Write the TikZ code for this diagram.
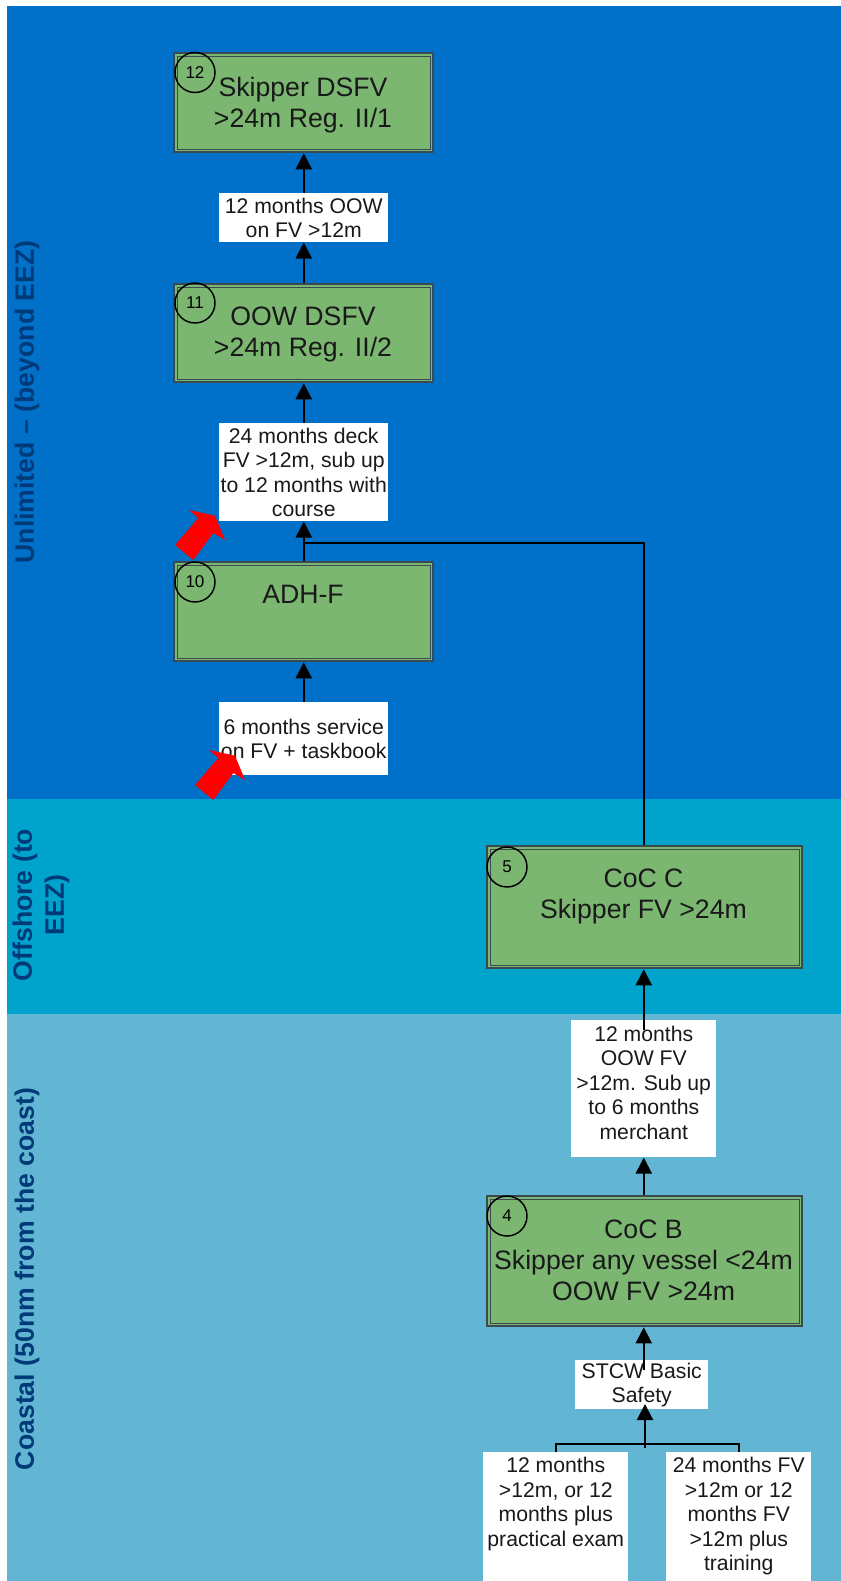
\documentclass[tikz,border=0pt]{standalone}
\usepackage{fontspec}
\setmainfont{Liberation Sans}
\usetikzlibrary{arrows.meta,calc}
\definecolor{bandA}{HTML}{0070C8}
\definecolor{bandB}{HTML}{00A3CC}
\definecolor{bandC}{HTML}{63B6D3}
\definecolor{boxg}{HTML}{7CB772}
\definecolor{edgeg}{HTML}{3A4A52}
\definecolor{bandtext}{HTML}{003A78}
\tikzset{
 x=0.75pt,y=-0.75pt,
 box/.style={draw=edgeg,fill=boxg,line width=1.7pt,rectangle,inner sep=0pt,anchor=north west},
 inbox/.style={draw=edgeg,line width=0.75pt,fill=none},
 boxtext/.style={font=\fontsize{20}{23.3}\selectfont,align=center,text=black!90,anchor=north},
 lab/.style={fill=white,inner sep=0pt,anchor=north west,align=center,font=\fontsize{15.9}{18.4}\selectfont,text=black!90},
 labtext/.style={lab,fill=none,anchor=north},
 num/.style={draw=black,line width=1.1pt,circle,minimum size=30pt,inner sep=0pt,font=\fontsize{12.8}{14}\selectfont},
 con/.style={draw=black,line width=1.6pt},
 arr/.style={con,-{Triangle[length=12pt,width=12pt]}},
 band/.style={font=\bfseries\fontsize{20}{24}\selectfont,text=bandtext,rotate=90,align=center},
 redarrow/.style={fill=red,draw=none}
}
\newcommand{\greenbox}[5]{%
 \node[box,minimum width=#3*0.75pt,minimum height=#4*0.75pt] (#5) at (#1,#2) {};
 \draw[inbox] ($(#5.north west)+(4.2,4.2)$) rectangle ($(#5.south east)+(-4.2,-4.2)$);
}
\begin{document}
\begin{tikzpicture}
\useasboundingbox (0,0) rectangle (841,1581);
\fill[white] (0,0) rectangle (841,1581);
\fill[bandA] (7,6) rectangle (841,799);
\fill[bandB] (7,799) rectangle (841,1014);
\fill[bandC] (7,1014) rectangle (841,1581);
\node[band] (u) at (27,402) {Unlimited – (beyond EEZ)};
\node[band] (o) at (41,905) {Offshore (to\\EEZ)};
\node[band] (c) at (27,1279) {Coastal (50nm from the coast)};
% boxes
\greenbox{173}{52}{259}{99}{b12}
\greenbox{173}{283}{259}{98}{b11}
\greenbox{173}{561}{259}{99}{b10}
\greenbox{486}{845}{315}{122}{b5}
\greenbox{486}{1195}{315}{130}{b4}
\node[boxtext] (t12) at (303,72.5) {Skipper DSFV\\>24m Reg. II/1};
\node[boxtext] (t11) at (303,302.5) {OOW DSFV\\>24m Reg. II/2};
\node[boxtext] (t10) at (303,580.5) {ADH-F};
\node[boxtext] (t5) at (643.5,864) {CoC C\\Skipper FV >24m};
\node[boxtext] (t4) at (643.5,1215) {CoC B\\Skipper any vessel <24m\\OOW FV >24m};
\node[num] (n12) at (195,72.5) {12};
\node[num] (n11) at (195,303) {11};
\node[num] (n10) at (195,582) {10};
\node[num] (n5) at (507,867) {5};
\node[num] (n4) at (507,1216) {4};
% labels
\node[lab,minimum width=126.75pt,minimum height=36.75pt] (l12) at (219,193) {12 months OOW\\on FV >12m};
\node[lab,minimum width=126.75pt,minimum height=73.5pt] (l11) at (219,423) {24 months deck\\FV >12m, sub up\\to 12 months with\\course};
\node[lab,minimum width=126.75pt,minimum height=54.75pt] (l10) at (219,702) {6 months service\\on FV + taskbook};
\node[lab,minimum width=108.75pt,minimum height=102.75pt] (l5) at (571,1020) {};
\node[labtext] (l5t) at ($(l5.north)+(0,5.5)$) {12 months\\OOW FV\\>12m. Sub up\\to 6 months\\merchant};
\node[lab,minimum width=99.75pt,minimum height=36.75pt] (l4) at (575,1360) {STCW Basic\\Safety};
\node[lab,minimum width=108.75pt,minimum height=96.75pt] (la) at (483,1452) {};
\node[lab,minimum width=108.75pt,minimum height=96.75pt] (lb) at (666,1452) {};
\node[labtext] (lat) at ($(la.north)+(0,5)$) {12 months\\>12m, or 12\\months plus\\practical exam};
\node[labtext] (lbt) at ($(lb.north)+(0,5)$) {24 months FV\\>12m or 12\\months FV\\>12m plus\\training};
% red arrows
\fill[redarrow] (175,545) -- (193.3,560) -- (213.3,533) -- (225,540) -- (215,515.7) -- (189,510) -- (198.3,518) -- cycle;
\fill[redarrow] (195,785) -- (213.3,800) -- (233.3,773) -- (245,780) -- (235,755.7) -- (209,750) -- (218.3,758) -- cycle;
% connectors
\coordinate (j) at (b10.north |- 0,543);
\draw[arr] (l12.north) -- (l12.north |- b12.south);
\draw[arr] (l12.north |- b11.north) -- (l12.south);
\draw[arr] (l11.north) -- (l11.north |- b11.south);
\draw[arr] (l11.north |- b10.north) -- (l11.south);
\draw[arr] (l10.north) -- (l10.north |- b10.south);
\draw[con] (l5.north |- b5.north) |- (l11.south |- j);
\draw[arr] ($(l5.north)+(0,10)$) -- (l5.north |- b5.south);
\draw[arr] (l5.north |- b4.north) -- (l5.south);
\draw[arr] ($(l5.north |- l4.north)+(0,10)$) -- (l5.north |- b4.south);
\coordinate (k) at (645,1448);
\coordinate (kt) at (645,1404);
\draw[con] (la.north) -- ++(0,-8) -| (lb.north);
\draw[arr] (k) -- (kt);
\end{tikzpicture}
\end{document}
